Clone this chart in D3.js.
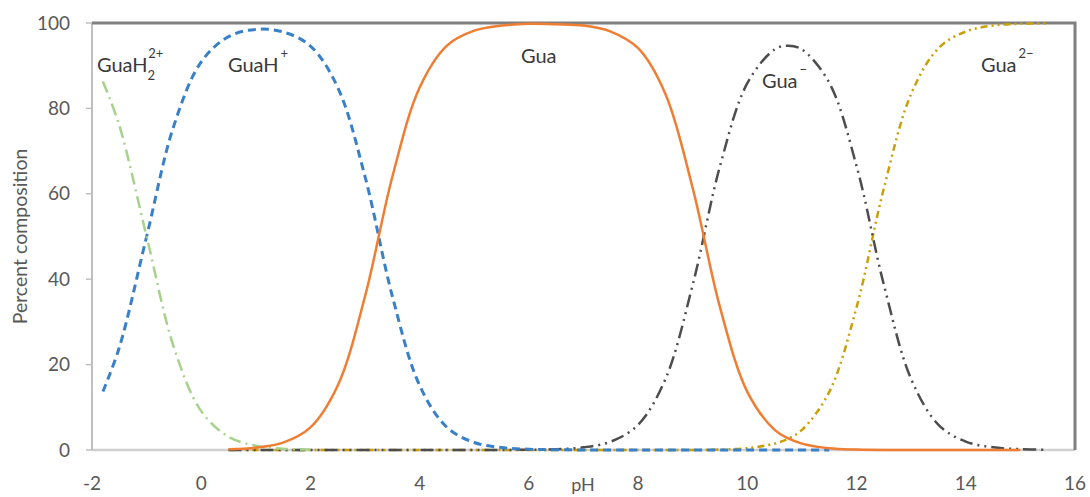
<!DOCTYPE html>
<meta charset="utf-8">
<style>
  body { margin: 0; background: #fff; }
  text { font-family: Lato, "Open Sans", sans-serif; }
</style>
<svg width="1090" height="497"></svg>
<script src="https://cdn.jsdelivr.net/npm/d3@7"></script>
<script>

// pH grid shared by all species (null = species not plotted there)
var pH = [-1.8, -1.5, -1, -0.5, 0, 0.5, 1, 1.5, 2, 2.5, 3, 3.5, 4, 4.5, 5, 5.5, 6, 6.5, 7, 7.5,
          8, 8.5, 9, 9.5, 10, 10.5, 10.75, 11, 11.5, 12, 12.5, 13, 13.5, 14, 14.5, 15, 15.5];

var guaH2 = [86.3, 76.0, 50, 24.0, 9.1, 3.1, 1.0, 0.3, 0.1, null, null, null, null, null, null, null, null, null, null, null,
             null, null, null, null, null, null, null, null, null, null, null, null, null, null, null, null, null];
var guaH  = [13.7, 24.0, 50, 76.0, 90.9, 96.8, 98.5, 97.9, 94.6, 84.9, 64.0, 36.0, 15.1, 5.3, 1.75, 0.56, 0.18, 0.06, 0.02, 0,
             0, 0, 0, 0, 0, 0, 0, 0, 0, null, null, null, null, null, null, null, null];
var gua   = [null, null, null, null, null, 0.17, 0.55, 1.74, 5.3, 15.1, 36.0, 64.0, 84.9, 94.7, 98.2, 99.4, 99.8, 99.7, 99.4, 98.0,
             94.1, 83.4, 61.3, 33.4, 13.6, 4.7, 2.7, 1.5, 0.4, 0.1, 0, 0, 0, 0, 0, 0, null];
var guaM  = [null, null, null, null, null, 0, 0, 0, 0, 0, 0, 0, 0, 0, 0, 0.02, 0.06, 0.2, 0.63, 1.96,
             5.9, 16.6, 38.7, 66.5, 85.9, 93.8, 94.7, 93.8, 86.0, 66.5, 38.7, 16.6, 5.9, 1.96, 0.63, 0.2, 0.06];
var guaM2 = [null, null, null, null, null, 0, 0, 0, 0, 0, 0, 0, 0, 0, 0, 0, 0, 0, 0, 0,
             0, 0, 0, 0.1, 0.43, 1.49, 2.67, 4.7, 13.6, 33.4, 61.3, 83.4, 94.1, 98.0, 99.4, 99.8, 99.9];

var xTicks = [-2, 0, 2, 4, 6, 8, 10, 12, 14, 16];
var yTicks = [0, 20, 40, 60, 80, 100];

var series = [
  { values: guaM2, color: "#c9a00a", dash: "7,4,2,4,2,4", width: 2.5 },
  { values: guaM,  color: "#4d4d4d", dash: "13,5,2,5,2,5", width: 2.5 },
  { values: guaH,  color: "#3a80c6", dash: "8,5", width: 3 },
  { values: guaH2, color: "#a9d18e", dash: "12,5,2,5", width: 2.5 },
  { values: gua,   color: "#ef7d32", dash: null, width: 2.5 }
];

var svg = d3.select("svg"),
    margin = { top: 23, right: 15, bottom: 47, left: 92 },
    width = +svg.attr("width") - margin.left - margin.right,
    height = +svg.attr("height") - margin.top - margin.bottom,
    g = svg.append("g").attr("transform", "translate(" + margin.left + "," + margin.top + ")");

var x = d3.scaleLinear().domain([-2, 16]).range([0, width]);
var y = d3.scaleLinear().domain([0, 100]).range([height, 0]);

// axes
g.append("line")
    .attr("x1", 0).attr("x2", width)
    .attr("y1", height).attr("y2", height)
    .attr("stroke", "#d0d0d0").attr("stroke-width", 2.5);

g.append("line")
    .attr("x1", 0).attr("x2", 0)
    .attr("y1", 0).attr("y2", height)
    .attr("stroke", "#bfbfbf").attr("stroke-width", 2);

g.selectAll(".ytick")
  .data(yTicks)
  .enter().append("line")
    .attr("x1", -6).attr("x2", 0)
    .attr("y1", y).attr("y2", y)
    .attr("stroke", "#bfbfbf").attr("stroke-width", 1.5);

g.selectAll(".ylab")
  .data(yTicks)
  .enter().append("text")
    .attr("x", -22)
    .attr("y", y)
    .attr("dy", "0.35em")
    .attr("text-anchor", "end")
    .attr("fill", "#595959")
    .attr("font-size", 19)
    .text(function(d) { return d; });

g.selectAll(".xlab")
  .data(xTicks)
  .enter().append("text")
    .attr("x", x)
    .attr("y", height + 40)
    .attr("text-anchor", "middle")
    .attr("fill", "#595959")
    .attr("font-size", 19)
    .text(function(d) { return d; });

// frame top and right
g.append("path")
    .attr("d", "M0,0H" + width + "V" + height)
    .attr("fill", "none")
    .attr("stroke", "#7f7f7f")
    .attr("stroke-width", 3);

// curves
var line = d3.line()
    .defined(function(d) { return d[1] !== null; })
    .x(function(d) { return x(d[0]); })
    .y(function(d) { return y(d[1]); })
    .curve(d3.curveCatmullRom.alpha(0.5));

g.selectAll(".curve")
  .data(series)
  .enter().append("path")
    .attr("fill", "none")
    .attr("stroke", function(d) { return d.color; })
    .attr("stroke-width", function(d) { return d.width; })
    .attr("stroke-dasharray", function(d) { return d.dash; })
    .attr("d", function(d) { return line(pH.map(function(p, i) { return [p, d.values[i]]; })); });

// axis titles
svg.append("text")
    .attr("transform", "translate(27," + (margin.top + height / 2) + ")rotate(-90)")
    .attr("text-anchor", "middle")
    .attr("fill", "#595959")
    .attr("font-size", 19.5)
    .text("Percent composition");

svg.append("text")
    .attr("x", 583)
    .attr("y", 491)
    .attr("text-anchor", "middle")
    .attr("fill", "#595959")
    .attr("font-size", 18)
    .text("pH");

// species labels
var labels = [
  { x: 97,  y: 72, base: "GuaH", sub: "2", sup: "2+" },
  { x: 228, y: 72, base: "GuaH", sub: null, sup: "+" },
  { x: 521, y: 63, base: "Gua", sub: null, sup: null },
  { x: 762, y: 88, base: "Gua", sub: null, sup: "\u2212" },
  { x: 981, y: 72, base: "Gua", sub: null, sup: "2\u2212" }
];

var lab = svg.selectAll(".label")
  .data(labels)
  .enter().append("text")
    .attr("x", function(d) { return d.x; })
    .attr("y", function(d) { return d.y; })
    .attr("fill", "#3a3a3a")
    .attr("font-size", 20);

lab.append("tspan").text(function(d) { return d.base; });
lab.filter(function(d) { return d.sub; })
  .append("tspan")
    .attr("font-size", 13)
    .attr("dy", 8)
    .text(function(d) { return d.sub; });
lab.filter(function(d) { return d.sup; })
  .append("tspan")
    .attr("font-size", 13)
    .attr("dx", function(d) { return d.sub ? -7 : 2; })
    .attr("dy", function(d) { return d.sub ? -22 : -14; })
    .text(function(d) { return d.sup; });

</script>
